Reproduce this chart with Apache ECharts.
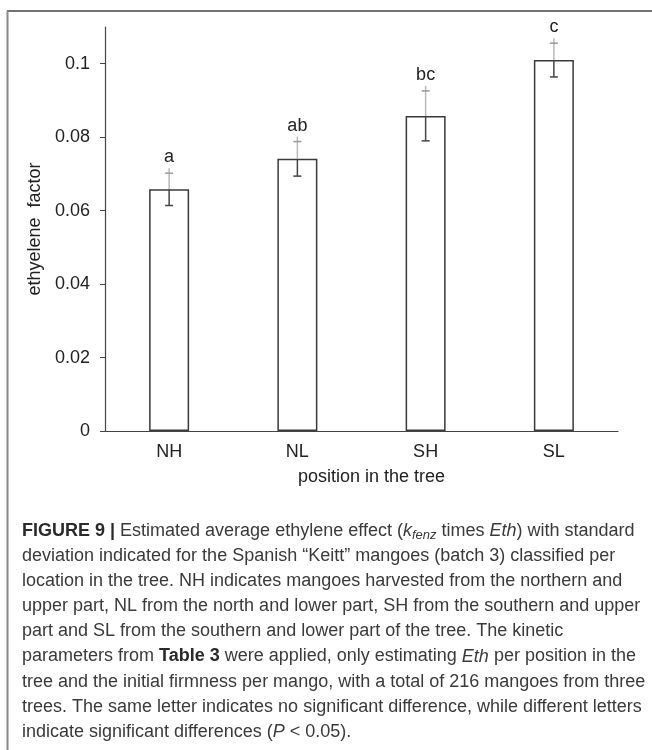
<!DOCTYPE html>
<html>
<head>
<meta charset="utf-8">
<script src="https://cdn.jsdelivr.net/npm/echarts@6/dist/echarts.min.js"></script>
<style>
html,body{margin:0;padding:0;background:#fff;}
#chart{width:652px;height:750px;}
</style>
</head>
<body>
<div id="chart"></div>
<script>
var categories = ['NH', 'NL', 'SH', 'SL'];
var means = [0.0658, 0.0741, 0.0858, 0.1010];
var sds = [0.0044, 0.0047, 0.0068, 0.0046];
var letters = ['a', 'ab', 'bc', 'c'];
var yTicks = [0, 0.02, 0.04, 0.06, 0.08, 0.1];
var yMax = 0.11;
var captionLines = [
  '{b|FIGURE 9 |} Estimated average ethylene effect ({i|k}{sub|fenz} times {i|Eth}) with standard',
  'deviation indicated for the Spanish \u201cKeitt\u201d mangoes (batch 3) classified per',
  'location in the tree. NH indicates mangoes harvested from the northern and',
  'upper part, NL from the north and lower part, SH from the southern and upper',
  'part and SL from the southern and lower part of the tree. The kinetic',
  'parameters from {b|Table 3} were applied, only estimating {i|Eth} per position in the',
  'tree and the initial firmness per mango, with a total of 216 mangoes from three',
  'trees. The same letter indicates no significant difference, while different letters',
  'indicate significant differences ({i|P} < 0.05).'
];

var FONT = 'Liberation Sans, Arial, sans-serif';
var CAP_FONT = 'Liberation Sans, Arial, sans-serif';
var capSize = 18;

var chart = echarts.init(document.getElementById('chart'), null, {renderer: 'canvas'});

var graphics = [
  {type: 'line', shape: {x1: 7, y1: 11, x2: 652, y2: 11}, style: {stroke: '#444', lineWidth: 1.5}},
  {type: 'line', shape: {x1: 7.5, y1: 11, x2: 7.5, y2: 750}, style: {stroke: '#8a8a8a', lineWidth: 2}}
];
captionLines.forEach(function (t, i) {
  graphics.push({
    type: 'text',
    x: 22,
    y: 531 + 25.1 * i,
    style: {
      text: t,
      fontFamily: CAP_FONT,
      fontSize: capSize,
      fill: '#3a3a3a',
      verticalAlign: 'middle',
      rich: {
        b: {fontWeight: 'bold', fontFamily: CAP_FONT, fontSize: capSize, fill: '#2a2a2a'},
        i: {fontStyle: 'italic', fontFamily: CAP_FONT, fontSize: capSize, fill: '#3a3a3a'},
        sub: {fontStyle: 'italic', fontFamily: CAP_FONT, fontSize: 13, fill: '#3a3a3a', padding: [8, 0, 0, 0]}
      }
    }
  });
});

var option = {
  animation: false,
  backgroundColor: '#fff',
  grid: {left: 105, right: 34, top: 27, bottom: 319},
  xAxis: {
    type: 'category',
    data: categories,
    axisLine: {lineStyle: {color: '#444', width: 1.2}},
    axisTick: {show: false},
    axisLabel: {color: '#222', fontSize: 18, fontFamily: FONT, margin: 12},
    name: 'position in the tree',
    nameLocation: 'middle',
    nameGap: 37,
    nameTextStyle: {color: '#222', fontSize: 18, fontFamily: FONT, padding: [0, 0, 0, 20]}
  },
  yAxis: {
    type: 'value',
    min: 0,
    max: yMax,
    axisLine: {show: true, lineStyle: {color: '#444', width: 1.2}},
    axisTick: {show: true, inside: false, length: 5, customValues: yTicks, lineStyle: {color: '#444'}},
    axisLabel: {color: '#222', fontSize: 18, fontFamily: FONT, margin: 15, customValues: yTicks},
    splitLine: {show: false},
    name: 'ethyelene  factor',
    nameLocation: 'middle',
    nameGap: 55,
    nameRotate: 90,
    nameTextStyle: {color: '#222', fontSize: 18, fontFamily: FONT}
  },
  series: [
    {
      type: 'bar',
      data: means,
      barWidth: 40,
      itemStyle: {color: '#fff', borderColor: '#3a3a3a', borderWidth: 1.5},
      silent: true
    },
    {
      type: 'custom',
      data: means.map(function (m, i) { return [i, m, sds[i]]; }),
      z: 5,
      renderItem: function (params, api) {
        var i = api.value(0), m = api.value(1), s = api.value(2);
        var top = api.coord([i, m]);
        var lo = api.coord([i, m - s]);
        var hi = api.coord([i, m + s]);
        var x = top[0], cw = 4;
        return {
          type: 'group',
          children: [
            {type: 'line', shape: {x1: x, y1: hi[1] - 5, x2: x, y2: top[1]}, style: {stroke: '#b8b8b8', lineWidth: 1.5}},
            {type: 'line', shape: {x1: x - cw, y1: hi[1], x2: x + cw, y2: hi[1]}, style: {stroke: '#9a9a9a', lineWidth: 1.5}},
            {type: 'line', shape: {x1: x, y1: top[1], x2: x, y2: lo[1]}, style: {stroke: '#444', lineWidth: 1.5}},
            {type: 'line', shape: {x1: x - cw, y1: lo[1], x2: x + cw, y2: lo[1]}, style: {stroke: '#444', lineWidth: 1.5}},
            {type: 'text', style: {text: letters[params.dataIndex], x: x, y: hi[1] - 7, align: 'center', verticalAlign: 'bottom', fontSize: 18, fontFamily: FONT, fill: '#222'}}
          ]
        };
      }
    }
  ],
  graphic: graphics
};
chart.setOption(option);
</script>
</body>
</html>
